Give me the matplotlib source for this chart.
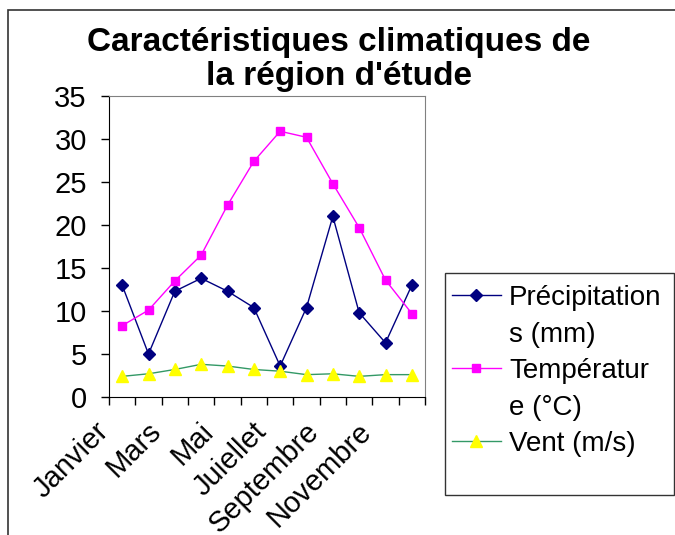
import matplotlib
matplotlib.use("Agg")
import matplotlib.pyplot as plt
import matplotlib.transforms as mtransforms
from matplotlib.lines import Line2D
from matplotlib.patches import Rectangle

plt.rcParams["font.family"] = ["Liberation Sans", "DejaVu Sans"]

months = ["Janvier", "Février", "Mars", "Avril", "Mai", "Juin", "Juiellet",
          "Août", "Septembre", "Octobre", "Novembre", "Décembre"]
precip = [13.0, 5.0, 12.3, 13.8, 12.3, 10.4, 3.6, 10.4, 21.0, 9.8, 6.3, 13.0]
temp = [8.3, 10.1, 13.5, 16.5, 22.3, 27.4, 30.9, 30.2, 24.8, 19.7, 13.6, 9.7]
vent = [2.4, 2.7, 3.2, 3.8, 3.6, 3.2, 3.0, 2.6, 2.7, 2.4, 2.6, 2.6]
title_lines = ["Caractéristiques climatiques de", "la région d'étude"]

W, H = 675, 535
fig = plt.figure(figsize=(W / 100, H / 100), dpi=100)

# outer chart frame (top and left visible)
fig.patches.append(Rectangle((8 / W, -0.1), 1.2, 1 - 10 / H + 0.1,
                             transform=fig.transFigure, fill=False,
                             edgecolor="#333333", lw=1.2))

for yb, line in zip([51, 85], title_lines):
    fig.text(339 / W, 1 - yb / H, line, ha="center", va="baseline",
             fontsize=24, fontweight="bold")

ax = fig.add_axes([109 / W, 138 / H, 316 / W, 301 / H])
x = range(len(months))
l1, = ax.plot(x, precip, color="#000080", lw=1, marker="D", markersize=6.5)
l2, = ax.plot(x, temp, color="#FF00FF", lw=1, marker="s", markersize=6)
l3, = ax.plot(x, vent, color="#339966", lw=1, marker="^", markersize=9,
              markerfacecolor="#FFFF00", markeredgecolor="#FFFF00")

ax.set_ylim(0, 35)
ax.set_yticks(range(0, 36, 5))
ax.set_xlim(-0.5, len(months) - 0.5)
ax.set_xticks([i - 0.5 for i in range(len(months) + 1)])
ax.set_xticklabels([])
ax.tick_params(axis="both", direction="out", length=6, width=1, labelsize=21)
ax.tick_params(axis="y", pad=10)

for s in ["top", "right"]:
    ax.spines[s].set_color("#808080")
for s in ["left", "bottom"]:
    ax.spines[s].set_color("black")

# every other month label, rotated like the original
off = mtransforms.ScaledTranslation(-18 / 100, -30 / 100, fig.dpi_scale_trans)
for i in range(0, len(months), 2):
    ax.text(i, 0, months[i], transform=ax.get_xaxis_transform() + off,
            rotation=45, ha="right", va="center", rotation_mode="anchor",
            fontsize=21)

# legend box
fig.patches.append(Rectangle((445 / W, 40 / H), 229 / W, 222 / H,
                             transform=fig.transFigure, fill=False,
                             edgecolor="#333333", lw=1))
blank = Line2D([], [], linestyle="none")
fig.legend(handles=[l1, blank, l2, blank, l3],
           labels=["Précipitation", "s (mm)", "Températur", "e (°C)", "Vent (m/s)"],
           loc="upper left", bbox_to_anchor=(452 / W, 1 - 285 / H),
           frameon=False, fontsize=20, borderpad=0, borderaxespad=0,
           handlelength=1.75, handletextpad=0.3, labelspacing=0.38)

fig.savefig("out.png", dpi=100)
